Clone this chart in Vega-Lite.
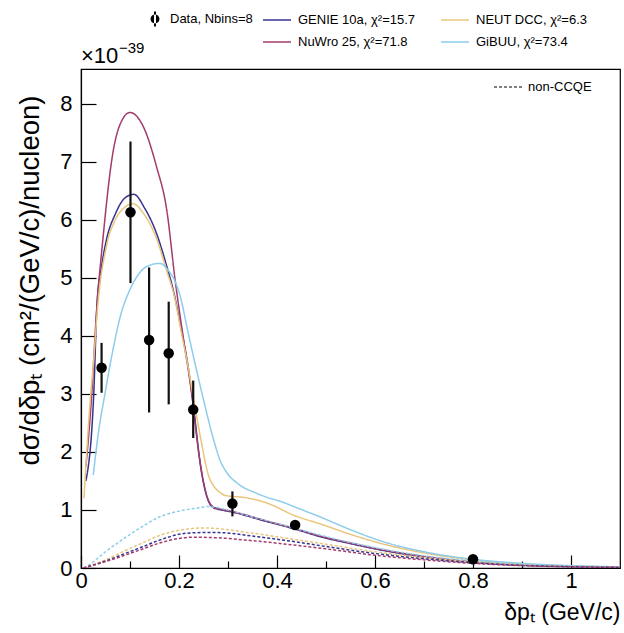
{
  "$schema": "https://vega.github.io/schema/vega-lite/v6.json",
  "width": 539,
  "height": 499,
  "autosize": {"type": "none"},
  "padding": {"left": 81, "top": 69, "right": 4, "bottom": 65},
  "background": "white",
  "config": {
    "font": "Liberation Sans",
    "view": {"stroke": "black", "strokeWidth": 1.2},
    "axis": {
      "domainColor": "black", "domainWidth": 1.2, "tickColor": "black", "tickWidth": 1.2,
      "labelColor": "black", "titleColor": "black", "labelFont": "Liberation Sans", "titleFont": "Liberation Sans",
      "labelFontSize": 22, "titleFontSize": 23, "titleFontWeight": "normal", "grid": false,
      "labelFlush": false, "labelOverlap": false
    }
  },
  "resolve": {"scale": {"color": "independent"}},
  "datasets": {
    "curves": [
      {"m":"GENIE","c":"total","x":0.01,"y":1.5},{"m":"GENIE","c":"total","x":0.026,"y":3.0},{"m":"GENIE","c":"total","x":0.033,"y":4.6},{"m":"GENIE","c":"total","x":0.042,"y":5.2},{"m":"GENIE","c":"total","x":0.052,"y":5.66},{"m":"GENIE","c":"total","x":0.07,"y":6.1},{"m":"GENIE","c":"total","x":0.09,"y":6.38},{"m":"GENIE","c":"total","x":0.108,"y":6.44},{"m":"GENIE","c":"total","x":0.13,"y":6.2},{"m":"GENIE","c":"total","x":0.154,"y":5.77},{"m":"GENIE","c":"total","x":0.175,"y":5.2},{"m":"GENIE","c":"total","x":0.188,"y":4.8},{"m":"GENIE","c":"total","x":0.205,"y":4.1},{"m":"GENIE","c":"total","x":0.219,"y":3.45},{"m":"GENIE","c":"total","x":0.23,"y":2.75},{"m":"GENIE","c":"total","x":0.245,"y":1.7},{"m":"GENIE","c":"total","x":0.258,"y":1.2},{"m":"GENIE","c":"total","x":0.27,"y":1.04},{"m":"GENIE","c":"total","x":0.277,"y":1.02},{"m":"GENIE","c":"total","x":0.311,"y":0.96},{"m":"GENIE","c":"total","x":0.379,"y":0.8},{"m":"GENIE","c":"total","x":0.437,"y":0.67},{"m":"GENIE","c":"total","x":0.488,"y":0.54},{"m":"GENIE","c":"total","x":0.55,"y":0.42},{"m":"GENIE","c":"total","x":0.618,"y":0.3},{"m":"GENIE","c":"total","x":0.7,"y":0.19},{"m":"GENIE","c":"total","x":0.8,"y":0.1},{"m":"GENIE","c":"total","x":0.9,"y":0.05},{"m":"GENIE","c":"total","x":1.0,"y":0.025},{"m":"GENIE","c":"total","x":1.1,"y":0.015},

      {"m":"NuWro","c":"total","x":0.01,"y":1.75},{"m":"NuWro","c":"total","x":0.022,"y":3.0},{"m":"NuWro","c":"total","x":0.03,"y":4.2},{"m":"NuWro","c":"total","x":0.046,"y":5.78},{"m":"NuWro","c":"total","x":0.066,"y":7.2},{"m":"NuWro","c":"total","x":0.08,"y":7.65},{"m":"NuWro","c":"total","x":0.1,"y":7.85},{"m":"NuWro","c":"total","x":0.127,"y":7.61},{"m":"NuWro","c":"total","x":0.154,"y":6.92},{"m":"NuWro","c":"total","x":0.175,"y":6.17},{"m":"NuWro","c":"total","x":0.192,"y":4.97},{"m":"NuWro","c":"total","x":0.21,"y":3.9},{"m":"NuWro","c":"total","x":0.226,"y":3.0},{"m":"NuWro","c":"total","x":0.24,"y":2.0},{"m":"NuWro","c":"total","x":0.255,"y":1.3},{"m":"NuWro","c":"total","x":0.27,"y":1.05},{"m":"NuWro","c":"total","x":0.277,"y":1.03},{"m":"NuWro","c":"total","x":0.311,"y":0.97},{"m":"NuWro","c":"total","x":0.379,"y":0.81},{"m":"NuWro","c":"total","x":0.437,"y":0.68},{"m":"NuWro","c":"total","x":0.488,"y":0.55},{"m":"NuWro","c":"total","x":0.55,"y":0.43},{"m":"NuWro","c":"total","x":0.618,"y":0.31},{"m":"NuWro","c":"total","x":0.7,"y":0.2},{"m":"NuWro","c":"total","x":0.8,"y":0.105},{"m":"NuWro","c":"total","x":0.9,"y":0.055},{"m":"NuWro","c":"total","x":1.0,"y":0.028},{"m":"NuWro","c":"total","x":1.1,"y":0.015},

      {"m":"NEUT","c":"total","x":0.006,"y":1.2},{"m":"NEUT","c":"total","x":0.018,"y":2.8},{"m":"NEUT","c":"total","x":0.026,"y":3.6},{"m":"NEUT","c":"total","x":0.034,"y":4.5},{"m":"NEUT","c":"total","x":0.052,"y":5.55},{"m":"NEUT","c":"total","x":0.07,"y":6.0},{"m":"NEUT","c":"total","x":0.09,"y":6.22},{"m":"NEUT","c":"total","x":0.105,"y":6.28},{"m":"NEUT","c":"total","x":0.13,"y":6.08},{"m":"NEUT","c":"total","x":0.154,"y":5.68},{"m":"NEUT","c":"total","x":0.175,"y":5.12},{"m":"NEUT","c":"total","x":0.19,"y":4.7},{"m":"NEUT","c":"total","x":0.205,"y":4.05},{"m":"NEUT","c":"total","x":0.22,"y":3.4},{"m":"NEUT","c":"total","x":0.232,"y":2.8},{"m":"NEUT","c":"total","x":0.245,"y":2.2},{"m":"NEUT","c":"total","x":0.26,"y":1.6},{"m":"NEUT","c":"total","x":0.272,"y":1.4},{"m":"NEUT","c":"total","x":0.284,"y":1.3},{"m":"NEUT","c":"total","x":0.294,"y":1.25},{"m":"NEUT","c":"total","x":0.338,"y":1.21},{"m":"NEUT","c":"total","x":0.379,"y":1.12},{"m":"NEUT","c":"total","x":0.437,"y":0.9},{"m":"NEUT","c":"total","x":0.488,"y":0.76},{"m":"NEUT","c":"total","x":0.55,"y":0.58},{"m":"NEUT","c":"total","x":0.618,"y":0.41},{"m":"NEUT","c":"total","x":0.7,"y":0.26},{"m":"NEUT","c":"total","x":0.8,"y":0.14},{"m":"NEUT","c":"total","x":0.9,"y":0.07},{"m":"NEUT","c":"total","x":1.0,"y":0.035},{"m":"NEUT","c":"total","x":1.1,"y":0.018},

      {"m":"GiBUU","c":"total","x":0.025,"y":1.6},{"m":"GiBUU","c":"total","x":0.035,"y":2.3},{"m":"GiBUU","c":"total","x":0.049,"y":3.01},{"m":"GiBUU","c":"total","x":0.065,"y":3.75},{"m":"GiBUU","c":"total","x":0.08,"y":4.33},{"m":"GiBUU","c":"total","x":0.1,"y":4.8},{"m":"GiBUU","c":"total","x":0.114,"y":5.02},{"m":"GiBUU","c":"total","x":0.135,"y":5.2},{"m":"GiBUU","c":"total","x":0.161,"y":5.25},{"m":"GiBUU","c":"total","x":0.178,"y":5.13},{"m":"GiBUU","c":"total","x":0.192,"y":4.94},{"m":"GiBUU","c":"total","x":0.205,"y":4.6},{"m":"GiBUU","c":"total","x":0.216,"y":4.16},{"m":"GiBUU","c":"total","x":0.232,"y":3.55},{"m":"GiBUU","c":"total","x":0.25,"y":2.9},{"m":"GiBUU","c":"total","x":0.271,"y":2.2},{"m":"GiBUU","c":"total","x":0.284,"y":1.85},{"m":"GiBUU","c":"total","x":0.294,"y":1.69},{"m":"GiBUU","c":"total","x":0.324,"y":1.43},{"m":"GiBUU","c":"total","x":0.355,"y":1.3},{"m":"GiBUU","c":"total","x":0.379,"y":1.22},{"m":"GiBUU","c":"total","x":0.41,"y":1.14},{"m":"GiBUU","c":"total","x":0.437,"y":1.05},{"m":"GiBUU","c":"total","x":0.488,"y":0.88},{"m":"GiBUU","c":"total","x":0.55,"y":0.66},{"m":"GiBUU","c":"total","x":0.618,"y":0.45},{"m":"GiBUU","c":"total","x":0.7,"y":0.28},{"m":"GiBUU","c":"total","x":0.8,"y":0.15},{"m":"GiBUU","c":"total","x":0.9,"y":0.08},{"m":"GiBUU","c":"total","x":1.0,"y":0.04},{"m":"GiBUU","c":"total","x":1.1,"y":0.02},

      {"m":"GiBUU","c":"non-CCQE","x":0.005,"y":0.0},{"m":"GiBUU","c":"non-CCQE","x":0.012,"y":0.03},{"m":"GiBUU","c":"non-CCQE","x":0.05,"y":0.28},{"m":"GiBUU","c":"non-CCQE","x":0.093,"y":0.54},{"m":"GiBUU","c":"non-CCQE","x":0.13,"y":0.74},{"m":"GiBUU","c":"non-CCQE","x":0.16,"y":0.88},{"m":"GiBUU","c":"non-CCQE","x":0.2,"y":0.98},{"m":"GiBUU","c":"non-CCQE","x":0.243,"y":1.04},{"m":"GiBUU","c":"non-CCQE","x":0.26,"y":1.06},{"m":"GiBUU","c":"non-CCQE","x":0.3,"y":1.0},{"m":"GiBUU","c":"non-CCQE","x":0.35,"y":0.88},{"m":"GiBUU","c":"non-CCQE","x":0.4,"y":0.77},{"m":"GiBUU","c":"non-CCQE","x":0.447,"y":0.66},{"m":"GiBUU","c":"non-CCQE","x":0.5,"y":0.54},{"m":"GiBUU","c":"non-CCQE","x":0.6,"y":0.35},{"m":"GiBUU","c":"non-CCQE","x":0.7,"y":0.21},{"m":"GiBUU","c":"non-CCQE","x":0.8,"y":0.12},{"m":"GiBUU","c":"non-CCQE","x":0.9,"y":0.06},{"m":"GiBUU","c":"non-CCQE","x":1.0,"y":0.03},{"m":"GiBUU","c":"non-CCQE","x":1.1,"y":0.015},

      {"m":"NEUT","c":"non-CCQE","x":0.005,"y":0.0},{"m":"NEUT","c":"non-CCQE","x":0.05,"y":0.14},{"m":"NEUT","c":"non-CCQE","x":0.093,"y":0.31},{"m":"NEUT","c":"non-CCQE","x":0.13,"y":0.45},{"m":"NEUT","c":"non-CCQE","x":0.16,"y":0.56},{"m":"NEUT","c":"non-CCQE","x":0.216,"y":0.67},{"m":"NEUT","c":"non-CCQE","x":0.25,"y":0.69},{"m":"NEUT","c":"non-CCQE","x":0.277,"y":0.68},{"m":"NEUT","c":"non-CCQE","x":0.35,"y":0.6},{"m":"NEUT","c":"non-CCQE","x":0.43,"y":0.5},{"m":"NEUT","c":"non-CCQE","x":0.5,"y":0.41},{"m":"NEUT","c":"non-CCQE","x":0.6,"y":0.28},{"m":"NEUT","c":"non-CCQE","x":0.7,"y":0.18},{"m":"NEUT","c":"non-CCQE","x":0.8,"y":0.1},{"m":"NEUT","c":"non-CCQE","x":0.9,"y":0.05},{"m":"NEUT","c":"non-CCQE","x":1.0,"y":0.025},{"m":"NEUT","c":"non-CCQE","x":1.1,"y":0.012},

      {"m":"GENIE","c":"non-CCQE","x":0.005,"y":0.0},{"m":"GENIE","c":"non-CCQE","x":0.05,"y":0.12},{"m":"GENIE","c":"non-CCQE","x":0.093,"y":0.26},{"m":"GENIE","c":"non-CCQE","x":0.13,"y":0.38},{"m":"GENIE","c":"non-CCQE","x":0.16,"y":0.48},{"m":"GENIE","c":"non-CCQE","x":0.216,"y":0.6},{"m":"GENIE","c":"non-CCQE","x":0.25,"y":0.61},{"m":"GENIE","c":"non-CCQE","x":0.28,"y":0.61},{"m":"GENIE","c":"non-CCQE","x":0.35,"y":0.55},{"m":"GENIE","c":"non-CCQE","x":0.43,"y":0.46},{"m":"GENIE","c":"non-CCQE","x":0.5,"y":0.37},{"m":"GENIE","c":"non-CCQE","x":0.6,"y":0.25},{"m":"GENIE","c":"non-CCQE","x":0.7,"y":0.16},{"m":"GENIE","c":"non-CCQE","x":0.8,"y":0.09},{"m":"GENIE","c":"non-CCQE","x":0.9,"y":0.045},{"m":"GENIE","c":"non-CCQE","x":1.0,"y":0.022},{"m":"GENIE","c":"non-CCQE","x":1.1,"y":0.01},

      {"m":"NuWro","c":"non-CCQE","x":0.005,"y":0.0},{"m":"NuWro","c":"non-CCQE","x":0.05,"y":0.11},{"m":"NuWro","c":"non-CCQE","x":0.093,"y":0.23},{"m":"NuWro","c":"non-CCQE","x":0.13,"y":0.34},{"m":"NuWro","c":"non-CCQE","x":0.16,"y":0.43},{"m":"NuWro","c":"non-CCQE","x":0.229,"y":0.53},{"m":"NuWro","c":"non-CCQE","x":0.28,"y":0.52},{"m":"NuWro","c":"non-CCQE","x":0.35,"y":0.47},{"m":"NuWro","c":"non-CCQE","x":0.43,"y":0.4},{"m":"NuWro","c":"non-CCQE","x":0.5,"y":0.33},{"m":"NuWro","c":"non-CCQE","x":0.6,"y":0.22},{"m":"NuWro","c":"non-CCQE","x":0.7,"y":0.14},{"m":"NuWro","c":"non-CCQE","x":0.8,"y":0.08},{"m":"NuWro","c":"non-CCQE","x":0.9,"y":0.04},{"m":"NuWro","c":"non-CCQE","x":1.0,"y":0.02},{"m":"NuWro","c":"non-CCQE","x":1.1,"y":0.01}
    ],
    "points": [
      {"k":"Data","x":0.042,"y":3.45,"lo":3.02,"hi":3.88},
      {"k":"Data","x":0.101,"y":6.13,"lo":4.91,"hi":7.35},
      {"k":"Data","x":0.139,"y":3.93,"lo":2.68,"hi":5.18},
      {"k":"Data","x":0.179,"y":3.7,"lo":2.82,"hi":4.59},
      {"k":"Data","x":0.229,"y":2.73,"lo":2.24,"hi":3.23},
      {"k":"Data","x":0.309,"y":1.11,"lo":0.89,"hi":1.32},
      {"k":"Data","x":0.437,"y":0.74,"lo":0.67,"hi":0.81},
      {"k":"Data","x":0.8,"y":0.15,"lo":0.11,"hi":0.19}
    ],
    "label": [{"t":"×10","s":"−39"}]
  },
  "layer": [
    {
      "data": {"name": "curves"},
      "mark": {"type": "line", "strokeWidth": 1.5, "interpolate": "monotone", "clip": true},
      "encoding": {
        "x": {"field": "x", "type": "quantitative", "scale": {"domain": [0, 1.1], "nice": false, "zero": false},
          "axis": {"values": [0,0.1,0.2,0.3,0.4,0.5,0.6,0.7,0.8,0.9,1.0],
            "labelExpr": "round(datum.value*10) % 2 == 0 ? format(datum.value, '.1~f') : ''",
            "tickSize": {"condition": {"test": "round(datum.value*10) % 2 == 0", "value": -13}, "value": -7},
            "labelPadding": 15,
            "title": "δpₜ (GeV/c)", "titleAnchor": "end", "titleAlign": "right", "titleX": 539, "titleY": 44, "titleBaseline": "middle"}},
        "y": {"field": "y", "type": "quantitative", "scale": {"domain": [0, 8.6], "nice": false},
          "axis": {"values": [0,0.5,1,1.5,2,2.5,3,3.5,4,4.5,5,5.5,6,6.5,7,7.5,8,8.5],
            "labelExpr": "datum.value % 1 == 0 ? format(datum.value, 'd') : ''",
            "tickSize": {"condition": {"test": "datum.value % 1 == 0", "value": -15}, "value": -8},
            "labelPadding": 24,
            "title": "dσ/dδpₜ (cm²/(GeV/c)/nucleon)", "titleFontSize": 27.5, "titleAngle": -90, "titleAnchor": "end",
            "titleAlign": "right", "titleBaseline": "middle", "titleX": -51, "titleY": 26}},
        "color": {"field": "m", "type": "nominal",
          "scale": {"domain": ["GENIE", "NEUT", "NuWro", "GiBUU"], "range": ["#35338f", "#e8c67c", "#a33b6b", "#8dcdeb"]},
          "legend": {"orient": "none", "legendX": 181, "legendY": -64, "columns": 2, "direction": "horizontal", "title": null,
            "labelExpr": "{'GENIE': 'GENIE 10a, χ²=15.7', 'NEUT': 'NEUT DCC, χ²=6.3', 'NuWro': 'NuWro 25, χ²=71.8', 'GiBUU': 'GiBUU, χ²=73.4'}[datum.label]",
            "symbolType": "stroke", "symbolSize": 784, "symbolStrokeWidth": 1.5, "labelFontSize": 13, "labelFont": "Liberation Sans",
            "labelColor": "black", "columnPadding": 22, "rowPadding": -2, "labelOffset": 6}},
        "strokeDash": {"field": "c", "type": "nominal",
          "scale": {"domain": ["total", "non-CCQE"], "range": [[1, 0], [3, 2]]},
          "legend": {"orient": "none", "legendX": 412, "legendY": 3, "title": null, "values": ["non-CCQE"],
            "symbolType": "stroke", "symbolSize": 784, "symbolStrokeColor": "black", "symbolStrokeWidth": 1.2,
            "labelFontSize": 13, "labelFont": "Liberation Sans", "labelColor": "black", "labelOffset": 5}}
      }
    },
    {
      "data": {"name": "points"},
      "mark": {"type": "rule", "strokeWidth": 2.2, "color": "#111111"},
      "encoding": {
        "x": {"field": "x", "type": "quantitative"},
        "y": {"field": "lo", "type": "quantitative"},
        "y2": {"field": "hi"}
      }
    },
    {
      "data": {"name": "points"},
      "mark": {"type": "point", "filled": true, "size": 110, "opacity": 1, "shape": "circle"},
      "encoding": {
        "x": {"field": "x", "type": "quantitative"},
        "y": {"field": "y", "type": "quantitative"},
        "color": {"field": "k", "type": "nominal", "scale": {"domain": ["Data"], "range": ["black"]},
          "legend": {"orient": "none", "legendX": 60, "legendY": -64, "title": null, "labelExpr": "'Data, Nbins=8'",
            "symbolType": "M-0.32,0A0.32,0.32,0,1,0,0.32,0A0.32,0.32,0,1,0,-0.32,0ZM-0.07,-0.54L0.07,-0.54L0.07,0.54L-0.07,0.54Z",
            "symbolSize": 784, "symbolFillColor": "black", "symbolStrokeWidth": 0, "symbolOpacity": 1,
            "labelFontSize": 13, "labelFont": "Liberation Sans", "labelColor": "black", "labelOffset": 1}}
      }
    },
    {
      "data": {"name": "label"},
      "mark": {"type": "text", "align": "left", "baseline": "bottom", "fontSize": 22, "dy": -1, "color": "black"},
      "encoding": {
        "x": {"datum": 0, "type": "quantitative"},
        "y": {"datum": 8.6, "type": "quantitative"},
        "text": {"field": "t"}
      }
    },
    {
      "data": {"name": "label"},
      "mark": {"type": "text", "align": "left", "baseline": "bottom", "fontSize": 15, "dx": 38, "dy": -13, "color": "black"},
      "encoding": {
        "x": {"datum": 0, "type": "quantitative"},
        "y": {"datum": 8.6, "type": "quantitative"},
        "text": {"field": "s"}
      }
    }
  ]
}
